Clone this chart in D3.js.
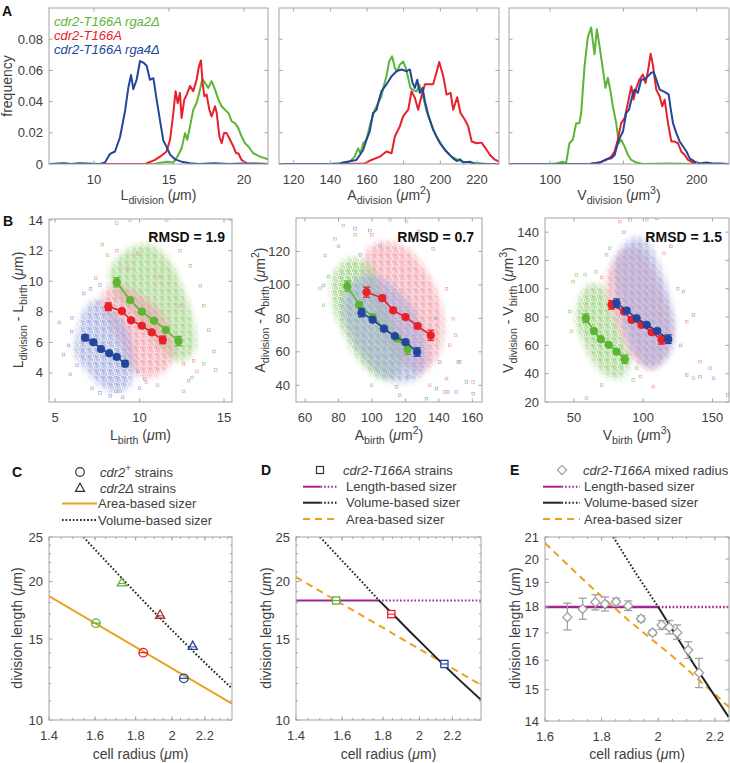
<!DOCTYPE html>
<html><head><meta charset="utf-8">
<script src="https://cdn.jsdelivr.net/npm/d3@7"></script>
<style>
body{margin:0;background:#fff}
svg{font-family:"Liberation Sans",Arial,Helvetica,sans-serif}
</style></head>
<body><svg id="c" width="730" height="763"></svg>
<script>
// ================= DATA =================
// Panel A: histograms (bin centre, frequency)
const lenGreenX=[7,14,14.18,14.84,15.29,15.62,15.84,16.07,16.22,16.4,16.62,16.84,17.07,17.22,17.4,17.62,17.84,18.07,18.29,18.51,18.73,18.96,19.18,19.4,19.62,19.84,20.07,20.29,20.62,21.07,21.6];
const lenGreenY=[0,0,0.0004,0.0015,0.0009,0.0058,0.0101,0.0198,0.0155,0.0241,0.0348,0.0391,0.0477,0.0546,0.052,0.0488,0.0531,0.0477,0.0413,0.037,0.0348,0.0327,0.0273,0.0262,0.023,0.0176,0.0133,0.0112,0.0069,0.0047,0.003];
const lenRedX=[7,13.4,14.07,14.4,14.84,15.07,15.29,15.44,15.58,15.73,15.84,16.02,16.18,16.4,16.62,16.84,17.0,17.13,17.24,17.36,17.51,17.69,17.84,18.07,18.18,18.36,18.51,18.67,18.84,19.07,19.29,19.47,19.62,19.84,20.18,21.6];
const lenRedY=[0,0,0.0026,0.0047,0.008,0.0155,0.0327,0.0467,0.039,0.0456,0.0295,0.0413,0.0445,0.05,0.0467,0.054,0.0628,0.0664,0.052,0.0434,0.0445,0.0348,0.0305,0.037,0.0327,0.0176,0.0133,0.0198,0.0198,0.0155,0.0112,0.0069,0.0069,0.0026,0.0004,0];
const lenBlueX=[7,8,8.5,9,10.4,10.73,11.07,11.4,11.73,12.07,12.29,12.47,12.62,12.84,13.07,13.29,13.51,13.73,13.96,14.18,14.4,14.62,14.84,15.07,15.4,15.84,16.4,17,18,19,20,21.6];
const lenBlueY=[0,0.0005,0,0.0005,0,0.001,0.0065,0.008,0.017,0.034,0.049,0.057,0.048,0.054,0.066,0.065,0.063,0.054,0.055,0.041,0.028,0.015,0.011,0.006,0.003,0.0015,0.0005,0,0.0005,0,0.0004,0];

const areaGreenX=[112,140,145.1,150.6,153.3,155.1,156.4,157.9,159.7,161.9,164.3,166.1,167.9,169.2,170.6,172.1,173.7,175.2,176.5,177.9,179.7,181.2,182.5,183.7,185.2,187,188.5,189.7,191,192.5,195.2,197.9,200.7,203.4,206.1,208,209.8,212.5,216.1,221.6,226,232];
const areaGreenY=[0,0,0.0004,0.0015,0.0047,0.0101,0.0069,0.0133,0.0155,0.0263,0.0348,0.0391,0.0434,0.0503,0.0563,0.0658,0.069,0.0615,0.0594,0.0636,0.0658,0.0615,0.055,0.0486,0.0475,0.0464,0.0508,0.0464,0.0413,0.0337,0.0251,0.0176,0.0123,0.0079,0.0047,0.0036,0.0026,0.0015,0.0009,0.0004,0,0];
const areaRedX=[112,150,158.8,162.4,167,170.6,173.4,175.2,177.9,179.7,182.5,184.3,186.1,187.9,189.7,191.6,194.3,196.1,197.9,199.4,201.6,203.4,205.6,207,209.2,211,213.4,215.2,217.1,219.8,222.5,225.3,227.1,229.5,232];
const areaRedY=[0,0,0.0004,0.0026,0.0047,0.008,0.0069,0.0176,0.0241,0.0305,0.0348,0.0467,0.0424,0.0348,0.0434,0.0511,0.0511,0.0511,0.0587,0.0654,0.0563,0.0445,0.0456,0.0348,0.0428,0.0327,0.0284,0.0241,0.0144,0.0133,0.0137,0.009,0.0058,0.003,0.0015];
const areaBlueX=[112,140,145.1,147,150.6,154.2,156.1,157.9,159.7,161.5,163.3,165.2,166.6,167.9,170.6,173.4,176.1,178.8,181.6,183.4,184.8,186.1,187.4,188.8,190.3,191.6,193.4,196.1,197.9,199.8,202.5,205.2,207,208.9,210.7,212.5,216.1,218,224,232];
const areaBlueY=[0,0,0.0004,0.0009,0.0017,0.0026,0.0058,0.009,0.0155,0.0209,0.0327,0.0348,0.0413,0.0467,0.051,0.0563,0.0595,0.0606,0.0595,0.0606,0.0522,0.0488,0.054,0.0456,0.0488,0.0402,0.0316,0.0219,0.0176,0.0133,0.009,0.0058,0.0036,0.0019,0.003,0.0009,0.0015,0.0004,0,0];

const volGreenX=[72,100,104.1,108.7,110.9,113.2,115.5,117.8,120,121.2,123.5,125.7,128,130.3,131.9,133.7,136,137.8,139.4,141.2,142.8,145.1,146.9,148.5,150.8,153.1,155.4,158.8,163.3,180,200,222];
const volGreenY=[0,0,0.0004,0.0015,0.0004,0.0133,0.0155,0.0262,0.0262,0.0327,0.0626,0.081,0.0875,0.0703,0.0864,0.0757,0.0606,0.0488,0.0553,0.0467,0.037,0.0262,0.0133,0.0155,0.0112,0.0058,0.0026,0.0009,0,0.0004,0,0];
const volRedX=[72,120,126.9,133.7,138.3,141.7,144,146.2,148.5,150.8,153.1,155.4,156.9,158.8,161,163.3,165.1,166.7,168.6,170.2,172.4,174.7,176.5,178.1,180.4,182.7,185,187.2,189.5,191.8,194.1,197.5,202,222];
const volRedY=[0,0,0,0.0009,0.0026,0.0047,0.008,0.0155,0.0262,0.0294,0.0391,0.0499,0.0413,0.0488,0.0542,0.0574,0.052,0.0594,0.0707,0.0628,0.0477,0.0434,0.037,0.0413,0.0262,0.0144,0.0144,0.0133,0.0079,0.0058,0.0026,0.0009,0,0];
const volBlueX=[72,120,126.9,133.7,138.3,141.7,144,146.9,149.7,151.9,153.8,156,157.6,159.9,162.2,164.5,166.7,169,170.6,172.4,174.7,177,179.3,180.9,182,183.8,186.1,188.4,190.7,193,195.2,198.6,202,206.6,211.2,215.7,222];
const volBlueY=[0,0,0,0.0009,0.003,0.0036,0.0058,0.0155,0.0208,0.0327,0.0348,0.0434,0.0477,0.0456,0.0542,0.0542,0.0563,0.0585,0.0589,0.0542,0.0477,0.0467,0.0456,0.0445,0.037,0.0262,0.0198,0.0144,0.0112,0.008,0.0036,0.0015,0.0004,0.0009,0.0004,0.0004,0];

const legendA=["cdr2-T166A rga2\u0394","cdr2-T166A","cdr2-T166A rga4\u0394"];

// Panel B: binned means (x, y, half error)
const b1BlueX=[6.78,7.27,7.72,8.2,8.65,9.14], b1BlueY=[6.31,6.01,5.57,5.29,5.05,4.61], b1BlueE=[0.2,0.12,0.1,0.1,0.12,0.2];
const b1RedX=[8.15,8.95,9.5,10.13,10.72,11.37], b1RedY=[8.33,8.05,7.44,7.09,6.66,6.16], b1RedE=[0.25,0.12,0.1,0.1,0.12,0.25];
const b1GreenX=[8.65,9.44,10.13,10.86,11.55,12.3], b1GreenY=[9.93,8.77,8.01,7.42,6.81,6.09], b1GreenE=[0.3,0.12,0.1,0.1,0.12,0.3];
const b2GreenX=[85.3,92.4,100.4,107.2,115.1,121.3], b2GreenY=[99.3,88.2,80.8,74.2,67.9,61.5], b2GreenE=[3,1.5,1.2,1.2,1.5,3];
const b2BlueX=[93.8,100.4,107.2,113.7,120.1,127], b2BlueY=[83.4,79.2,73.8,69.4,65.8,59.9], b2BlueE=[2.5,1.3,1.2,1.2,1.3,2.5];
const b2RedX=[96.8,106.2,112.7,120.1,127.3,135.2], b2RedY=[95.7,92.1,84.8,80.8,75.4,69.9], b2RedE=[3,1.5,1.2,1.2,1.5,3];
const b3GreenX=[58.5,64.3,69.3,75.1,80.7,86.7], b3GreenY=[79.2,70.2,64.4,60.4,55.6,50.2], b3GreenE=[3,1.5,1.2,1.2,1.5,3];
const b3RedX=[77.1,86.2,91.6,98.8,106.1,113.3], b3RedY=[88.6,83.9,78,74.5,69.3,63.9], b3RedE=[3,1.5,1.2,1.2,1.5,3];
const b3BlueX=[80.7,88,95.2,102.5,110.1,118.1], b3BlueY=[89.8,84.6,79.2,74.5,70.2,64.4], b3BlueE=[3,1.5,1.2,1.2,1.5,3];
const rmsd=["RMSD = 1.9","RMSD = 0.7","RMSD = 1.5"];

// Panel B: single-cell clouds (dense core outline + sparse outer cells)
const b1BlueCore=[[6.38,6.7],[6.68,8.0],[7.47,8.77],[8.26,8.22],[9.05,7.35],[9.54,5.83],[9.64,4.3],[9.34,3.11],[8.45,2.78],[7.66,3.22],[6.78,4.3],[6.18,5.39]];
const b1BlueOut=[[5.25,7.3],[5.98,6.7],[5.8,5.8],[6.3,4.5],[7.1,9.5],[7.66,9.75],[6.7,9.2],[10.0,3.0],[9.9,4.1],[7.66,2.7],[8.26,2.5],[8.6,2.8],[5.9,3.9],[5.5,5.2],[6.0,7.6],[7.2,3.0],[10.3,3.6],[9.0,2.4]];
const b1RedCore=[[7.86,9.24],[8.85,9.68],[10.04,9.03],[11.23,7.94],[11.82,6.63],[12.02,5.32],[11.6,4.24],[10.85,3.8],[10.04,3.8],[9.44,4.46],[8.85,5.99],[8.06,7.73]];
const b1RedOut=[[8.65,12.0],[9.9,11.8],[8.65,13.8],[12.6,4.6],[13.2,4.8],[13.4,4.1],[11.06,3.2],[10.4,3.4],[7.4,10.2],[12.4,8.4],[9.3,10.8],[11.2,10.3],[12.9,3.5],[7.6,8.6]];
const b1GreenCore=[[8.26,10.66],[9.25,11.97],[10.43,12.4],[11.62,11.53],[12.61,9.35],[13.2,7.18],[13.2,5.43],[12.4,4.78],[11.42,5.43],[10.43,6.74],[9.44,8.05],[8.55,9.14]];
const b1GreenOut=[[9.44,14.0],[11.6,14.0],[7.8,12.4],[12.4,12.0],[13.6,9.7],[13.8,8.4],[14.4,5.4],[14.5,4.2],[13.8,4.6],[12.6,2.8],[13.1,3.7],[8.85,2.8],[8.1,11.7],[10.8,13.1],[13.0,11.0],[14.1,6.8]];
const b2GreenCore=[[77.9,107.7],[86.9,115.6],[98.8,111.6],[104.8,95.7],[112.7,77.8],[118.7,59.9],[114.7,45.9],[104.8,44],[94.8,52],[84.9,67.9],[77.9,83.8],[75.9,97.7]];
const b2GreenOut=[[82.9,135.5],[77.9,127.6],[72,117.6],[71,87.8],[99.8,40],[124.7,52],[114.7,39],[74,105],[80,123],[69,98],[90,130],[122,45]];
const b2RedCore=[[96.8,119.6],[106.8,125.6],[120.7,121.6],[132.6,107.7],[140.6,89.8],[142.6,71.8],[138.6,55.9],[128.7,47.96],[118.7,52],[110.8,63.9],[102.8,81.8],[97.8,101.7]];
const b2RedOut=[[110.8,139],[120.7,137.9],[136.6,121.6],[144.6,97.7],[148.6,79.8],[146.6,63.9],[151.5,54],[160.5,42],[144.6,44],[143.6,36],[134.6,40],[128,132],[100,130],[150,70]];
const b2BlueCore=[[86.9,99.7],[96.8,105.7],[108.8,101.7],[122.7,87.8],[130.7,71.8],[132.6,53.9],[126.7,44],[114.7,42],[102.8,48],[92.8,59.9],[84.9,75.8],[82.9,89.8]];
const b2BlueOut=[[89.9,133.5],[98.8,132.5],[104.8,123.6],[71,99.7],[140.6,53.9],[138.6,38],[145.6,36],[150.5,36],[160.5,35],[156.5,42],[152.5,54],[132.6,32],[116.7,34],[93,118],[138,80]];
const b3GreenCore=[[54.2,93.3],[61.4,102.8],[71.1,100.4],[78.3,83.9],[85.5,65.1],[90.4,48.6],[83.1,36.8],[73.5,39.1],[63.8,48.6],[56.6,62.7],[51.7,76.8]];
const b3GreenOut=[[49.3,105.1],[51.7,109.8],[75.9,128.7],[59,22.7],[92.8,35.6],[95.2,43.9],[46.9,83.9],[58,110],[66,112],[95,55],[70,32],[48,70]];
const b3RedCore=[[75.9,114.5],[88,128.7],[97.6,128.7],[107.3,112.2],[116.9,91],[121.8,69.8],[116.9,53.3],[107.3,43.9],[95.2,48.6],[85.5,65.1],[77.1,86.3],[73.5,100.4]];
const b3RedOut=[[83.1,147.5],[102.5,148.7],[131.4,76.8],[141.1,48.6],[136.3,36.8],[107.3,30.9],[73.5,124],[115,125],[125,100],[98,38],[70,108]];
const b3BlueCore=[[80.7,121.6],[92.8,135.7],[102.5,133.4],[112.1,114.5],[119.4,91],[121.8,69.8],[116.9,51],[104.9,43.9],[92.8,55.6],[85.5,74.5],[80.7,95.7]];
const b3BlueOut=[[90.4,148.7],[109.7,149.9],[129,98],[136.3,81.5],[148.3,43.9],[150.8,36.8],[161,25],[131.4,39.1],[141.1,37.9],[120,130],[127,60],[86,140]];

// Panel C
const cCircR=[1.604,1.84,2.07], cCircL=[16.24,14.01,12.32];
const cTriR=[1.729,1.932,2.124], cTriL=[19.9,16.93,14.49];
const cAreaR=[1.4,2.38], cAreaL=[18.6,10.85];
const cVolR=[1.547,1.65,1.75,1.85,1.95,2.05,2.15,2.25,2.38], cVolL=[25,22.17,19.9,17.99,16.38,15.02,13.84,12.83,11.71];
// Panel D
const dSqR=[1.572,1.844,2.15], dSqL=[18.19,16.99,13.24];
const dLenR=[1.4,1.777,2.39], dLenL=[18.19,18.19,18.19];
const dVolR=[1.501,1.6,1.7,1.777,1.85,1.95,2.05,2.15,2.25,2.39], dVolL=[25,22.19,19.84,18.25,17.03,15.52,14.24,13.13,12.18,11.06];
const dAreaR=[1.4,2.39], dAreaL=[20.45,11.92];
// Panel E
const eR=[1.679,1.733,1.778,1.812,1.851,1.894,1.939,1.98,2.012,2.039,2.067,2.106,2.144];
const eL=[17.6,17.92,18.19,18.12,18.21,18.05,17.54,17.01,17.3,17.21,17.01,16.37,15.57];
const eHi=[18.15,18.35,18.49,18.4,18.35,18.24,17.65,17.11,17.47,17.47,17.3,16.67,16.07];
const eLo=[17.11,17.52,17.88,17.84,18.03,17.86,17.43,16.91,17.13,16.96,16.76,16.07,15.07];
const eLenR=[1.6,2.0,2.25], eLenL=[18,18,18];
const eVolR=[1.841,1.918,2.0,2.123,2.249], eVolL=[21,19.44,18,15.91,14.12];
const eAreaR=[1.6,1.75,1.9,2.05,2.25], eAreaL=[20.72,18.95,17.43,16.15,14.44];

// ================= STYLE =================
const GREEN='#5db535', RED='#e8202a', BLUE='#21469b', DRED='#b02a30';
const LGREEN='#9fd283', LRED='#f3a0ac', LBLUE='#a3acdf';
const ORANGE='#eea021', MAG='#a3248f', GREY='#a0a0a0';
const AX='#a3a3a3', TXT='#404040';

const svg=d3.select('#c');
const defs=svg.append('defs');
defs.append('filter').attr('id','blur').attr('x','-50%').attr('y','-50%').attr('width','200%').attr('height','200%')
  .append('feGaussianBlur').attr('stdDeviation',3);

let uid=0;
function clip(x,y){const id='cl'+(uid++);const [x0,x1]=x.range(),[yb,yt]=y.range();
  defs.append('clipPath').attr('id',id).append('rect').attr('x',x0).attr('y',yt).attr('width',x1-x0).attr('height',yb-yt);
  return `url(#${id})`;}

function txt(g,x,y,parts,o={}){
  const size=o.size||14;
  const t=g.append('text').attr('x',x).attr('y',y).attr('text-anchor',o.anchor||'start')
    .attr('font-size',size).attr('fill',o.fill||TXT);
  if(o.bold) t.attr('font-weight','bold');
  if(o.italic) t.attr('font-style','italic');
  if(o.rotate) t.attr('transform',`rotate(-90,${x},${y})`);
  let shift=0;
  parts.forEach(p=>{
    if(typeof p==='string') p={t:p};
    const target=p.sub?4:(p.sup?-6:0);
    const ts=t.append('tspan').attr('dy',target-shift).text(p.t);
    shift=target;
    if(p.sub||p.sup) ts.attr('font-size',size*0.76);
    if(p.it) ts.attr('font-style','italic');
  });
  return t;
}

function axes(x,y,o){
  const [x0,x1]=x.range(),[yb,yt]=y.range();
  const g=svg.append('g');
  const L=o.tl||3.5;
  const ln=(a,b,c,d)=>g.append('line').attr('x1',a).attr('y1',b).attr('x2',c).attr('y2',d).attr('stroke',AX).attr('stroke-width',1);
  (o.xminor||[]).forEach(v=>{const p=x(v);ln(p,yb,p,yb-L*0.6);ln(p,yt,p,yt+L*0.6);});
  (o.yminor||[]).forEach(v=>{const p=y(v);ln(x0,p,x0+L*0.6,p);ln(x1,p,x1-L*0.6,p);});
  o.xt.forEach(v=>{const p=x(v);ln(p,yb,p,yb-L);ln(p,yt,p,yt+L);
    g.append('text').attr('x',p).attr('y',yb+20).attr('text-anchor','middle').attr('font-size',13).attr('fill',TXT).text(o.xf?o.xf(v):v);});
  o.yt.forEach(v=>{const p=y(v);ln(x0,p,x0+L,p);ln(x1,p,x1-L,p);
    if(o.yl!==false) g.append('text').attr('x',x0-6).attr('y',p+4.5).attr('text-anchor','end').attr('font-size',13).attr('fill',TXT).text(o.yf?o.yf(v):v);});
  g.append('rect').attr('x',x0).attr('y',yt).attr('width',x1-x0).attr('height',yb-yt).attr('fill','none').attr('stroke',AX).attr('stroke-width',1);
}

function curve(g,x,y,xs,ys,color,o={}){
  g.append('path').attr('d',d3.line()(xs.map((v,i)=>[x(v),y(ys[i])])))
    .attr('fill','none').attr('stroke',color).attr('stroke-width',o.w||2)
    .attr('stroke-dasharray',o.dash||null).attr('stroke-linejoin','round');
}

function pattern(id,color,dx,dy){
  const p=defs.append('pattern').attr('id',id).attr('patternUnits','userSpaceOnUse').attr('width',7).attr('height',7)
    .attr('patternTransform',`translate(${dx},${dy})`);
  [[0.4,0.6],[3.6,1.4],[1.7,3.9],[4.9,4.6],[2.6,0.1]].forEach(([a,b])=>p.append('rect').attr('x',a).attr('y',b).attr('width',2).attr('height',2)
    .attr('fill','none').attr('stroke',color).attr('stroke-width',0.7));
}
function cloud(g,x,y,core,out,color){
  const id='m'+(uid++);
  const m=defs.append('mask').attr('id',id).attr('maskUnits','userSpaceOnUse').attr('x',0).attr('y',0).attr('width',730).attr('height',763);
  m.append('path').attr('d',d3.line().curve(d3.curveCatmullRomClosed)(core.map(p=>[x(p[0]),y(p[1])]))).attr('fill','#fff').attr('filter','url(#blur)');
  const pid='p'+id; pattern(pid,color,(uid*2.3)%7,(uid*1.7)%7);
  const [x0,x1]=x.range(),[yb,yt]=y.range();
  g.append('rect').attr('x',x0).attr('y',yt).attr('width',x1-x0).attr('height',yb-yt).attr('fill',color).attr('fill-opacity',0.16).attr('mask',`url(#${id})`);
  g.append('rect').attr('x',x0).attr('y',yt).attr('width',x1-x0).attr('height',yb-yt).attr('fill',`url(#${pid})`).attr('mask',`url(#${id})`);
  g.selectAll(null).data(out).join('rect').attr('x',d=>x(d[0])-1.3).attr('y',d=>y(d[1])-1.3).attr('width',2.6).attr('height',2.6)
    .attr('fill','none').attr('stroke',color).attr('stroke-width',0.7);
}
function binned(g,x,y,bx,by,be,color){
  curve(g,x,y,bx,by,color,{w:1.6});
  bx.forEach((v,i)=>{
    const px=x(v),y1=y(by[i]+be[i]),y2=y(by[i]-be[i]);
    [[px,y1,px,y2],[px-3.5,y1,px+3.5,y1],[px-3.5,y2,px+3.5,y2]].forEach(a=>g.append('line').attr('x1',a[0]).attr('y1',a[1]).attr('x2',a[2]).attr('y2',a[3]).attr('stroke',color).attr('stroke-width',1.3));
    g.append('circle').attr('cx',px).attr('cy',y(by[i])).attr('r',3.8).attr('fill',color).attr('stroke',color).attr('stroke-width',0.8);
  });
}

// ================= PANEL A =================
const yA=d3.scaleLinear().domain([0,0.1]).range([164,8]);
const xA1=d3.scaleLinear().domain([7,21.6]).range([49,268]);
const xA2=d3.scaleLinear().domain([112,232]).range([279,499]);
const xA3=d3.scaleLinear().domain([72,222]).range([509,729]);
[[xA1,[lenGreenX,lenGreenY],[lenRedX,lenRedY],[lenBlueX,lenBlueY]],
 [xA2,[areaGreenX,areaGreenY],[areaRedX,areaRedY],[areaBlueX,areaBlueY]],
 [xA3,[volGreenX,volGreenY],[volRedX,volRedY],[volBlueX,volBlueY]]].forEach(([x,gs,rs,bs])=>{
  const g=svg.append('g').attr('clip-path',clip(x,yA));
  curve(g,x,yA,gs[0],gs[1],GREEN);curve(g,x,yA,rs[0],rs[1],RED);curve(g,x,yA,bs[0],bs[1],BLUE);
});
const fmtA=v=>v===0?'0':v.toFixed(2);
axes(xA1,yA,{xt:[10,15,20],yt:[0,0.02,0.04,0.06,0.08],yf:fmtA});
axes(xA2,yA,{xt:[120,140,160,180,200,220],yt:[0,0.02,0.04,0.06,0.08],yl:false});
axes(xA3,yA,{xt:[100,150,200],yt:[0,0.02,0.04,0.06,0.08],yl:false});
const gA=svg.append('g');
[GREEN,RED,BLUE].forEach((c,i)=>txt(gA,54,[25.5,39.5,53.5][i],[legendA[i]],{size:13,italic:true,fill:c}));
txt(gA,12,86,['frequency'],{rotate:true,anchor:'middle'});
txt(gA,158.5,200,['L',{t:'division',sub:true},'  (',{t:'\u03bc',it:true},'m)'],{anchor:'middle'});
txt(gA,389,200,['A',{t:'division',sub:true},'  (',{t:'\u03bc',it:true},'m',{t:'2',sup:true},')'],{anchor:'middle'});
txt(gA,619,200,['V',{t:'division',sub:true},'  (',{t:'\u03bc',it:true},'m',{t:'3',sup:true},')'],{anchor:'middle'});
txt(gA,2,16,['A'],{bold:true,size:14,fill:'#111'});

// ================= PANEL B =================
const xB1=d3.scaleLinear().domain([4.64,15.47]).range([49,232]);
const yB1=d3.scaleLinear().domain([2.1,14.07]).range([402,219]);
const xB2=d3.scaleLinear().domain([54.6,165.8]).range([296,482]);
const yB2=d3.scaleLinear().domain([30,140]).range([402,218]);
const xB3=d3.scaleLinear().domain([29,162]).range([545,729]);
const yB3=d3.scaleLinear().domain([20,150]).range([402,218]);
{
  const g=svg.append('g').attr('clip-path',clip(xB1,yB1));
  cloud(g,xB1,yB1,b1GreenCore,b1GreenOut,LGREEN);
  cloud(g,xB1,yB1,b1RedCore,b1RedOut,LRED);
  cloud(g,xB1,yB1,b1BlueCore,b1BlueOut,LBLUE);
  binned(g,xB1,yB1,b1BlueX,b1BlueY,b1BlueE,BLUE);
  binned(g,xB1,yB1,b1RedX,b1RedY,b1RedE,RED);
  binned(g,xB1,yB1,b1GreenX,b1GreenY,b1GreenE,GREEN);
}
{
  const g=svg.append('g').attr('clip-path',clip(xB2,yB2));
  cloud(g,xB2,yB2,b2RedCore,b2RedOut,LRED);
  cloud(g,xB2,yB2,b2GreenCore,b2GreenOut,LGREEN);
  cloud(g,xB2,yB2,b2BlueCore,b2BlueOut,LBLUE);
  binned(g,xB2,yB2,b2GreenX,b2GreenY,b2GreenE,GREEN);
  binned(g,xB2,yB2,b2BlueX,b2BlueY,b2BlueE,BLUE);
  binned(g,xB2,yB2,b2RedX,b2RedY,b2RedE,RED);
}
{
  const g=svg.append('g').attr('clip-path',clip(xB3,yB3));
  cloud(g,xB3,yB3,b3GreenCore,b3GreenOut,LGREEN);
  cloud(g,xB3,yB3,b3RedCore,b3RedOut,LRED);
  cloud(g,xB3,yB3,b3BlueCore,b3BlueOut,LBLUE);
  binned(g,xB3,yB3,b3GreenX,b3GreenY,b3GreenE,GREEN);
  binned(g,xB3,yB3,b3RedX,b3RedY,b3RedE,RED);
  binned(g,xB3,yB3,b3BlueX,b3BlueY,b3BlueE,BLUE);
}
axes(xB1,yB1,{xt:[5,10,15],yt:[4,6,8,10,12,14]});
axes(xB2,yB2,{xt:[60,80,100,120,140,160],yt:[40,60,80,100,120]});
axes(xB3,yB3,{xt:[50,100,150],yt:[20,40,60,80,100,120,140]});
const gB=svg.append('g');
txt(gB,225,242,[rmsd[0]],{anchor:'end',bold:true,fill:'#111'});
txt(gB,474,242,[rmsd[1]],{anchor:'end',bold:true,fill:'#111'});
txt(gB,722,242,[rmsd[2]],{anchor:'end',bold:true,fill:'#111'});
txt(gB,140.5,440,['L',{t:'birth',sub:true},' (',{t:'\u03bc',it:true},'m)'],{anchor:'middle'});
txt(gB,389,440,['A',{t:'birth',sub:true},' (',{t:'\u03bc',it:true},'m',{t:'2',sup:true},')'],{anchor:'middle'});
txt(gB,637,440,['V',{t:'birth',sub:true},' (',{t:'\u03bc',it:true},'m',{t:'3',sup:true},')'],{anchor:'middle'});
txt(gB,23,310,['L',{t:'division',sub:true},' - L',{t:'birth',sub:true},' (',{t:'\u03bc',it:true},'m)'],{anchor:'middle',rotate:true});
txt(gB,265,310,['A',{t:'division',sub:true},' - A',{t:'birth',sub:true},' (',{t:'\u03bc',it:true},'m',{t:'2',sup:true},')'],{anchor:'middle',rotate:true});
txt(gB,513,310,['V',{t:'division',sub:true},' - V',{t:'birth',sub:true},' (',{t:'\u03bc',it:true},'m',{t:'3',sup:true},')'],{anchor:'middle',rotate:true});
txt(gB,3,226,['B'],{bold:true,fill:'#111'});

// ================= PANELS C, D, E =================
const xC=d3.scaleLog().domain([1.4,2.38]).range([49,232]);
const yC=d3.scaleLog().domain([10,25]).range([720,537]);
const xD=d3.scaleLog().domain([1.4,2.39]).range([296,481]);
const yD=d3.scaleLog().domain([10,25]).range([720,537]);
const xE=d3.scaleLinear().domain([1.6,2.25]).range([545,729]);
const yE=d3.scaleLog().domain([14,21]).range([721,537]);
const fmtR=v=>v===2?'2':v.toFixed(1);
const rMinor=d3.range(1.45,2.4,0.05);
const lMinor=[11,12,13,14,16,17,18,19,21,22,23,24];

// C
{
  const g=svg.append('g').attr('clip-path',clip(xC,yC));
  curve(g,xC,yC,cAreaR,cAreaL,ORANGE,{w:2});
  curve(g,xC,yC,cVolR,cVolL,'#222',{w:2,dash:'1.6,2'});
  const cc=[GREEN,RED,BLUE], tc=[GREEN,DRED,BLUE];
  cCircR.forEach((r,i)=>{const px=xC(r),py=yC(cCircL[i]);
    g.append('circle').attr('cx',px).attr('cy',py).attr('r',4.3).attr('fill','none').attr('stroke',cc[i]).attr('stroke-width',1.3);
    g.append('line').attr('x1',px-4.3).attr('x2',px+4.3).attr('y1',py).attr('y2',py).attr('stroke',cc[i]).attr('stroke-width',1.2);});
  cTriR.forEach((r,i)=>{const px=xC(r),py=yC(cTriL[i]);
    g.append('path').attr('d',`M${px},${py-4.8}L${px+4.6},${py+3.4}L${px-4.6},${py+3.4}Z`).attr('fill','none').attr('stroke',tc[i]).attr('stroke-width',1.3);
    g.append('line').attr('x1',px-3.5).attr('x2',px+3.5).attr('y1',py+1).attr('y2',py+1).attr('stroke',tc[i]).attr('stroke-width',1);});
}
axes(xC,yC,{xt:[1.4,1.6,1.8,2,2.2],xf:fmtR,yt:[10,15,20,25],xminor:rMinor,yminor:lMinor});
// D
{
  const g=svg.append('g').attr('clip-path',clip(xD,yD));
  curve(g,xD,yD,dAreaR,dAreaL,ORANGE,{w:2,dash:'7,5'});
  curve(g,xD,yD,dLenR.slice(0,2),dLenL.slice(0,2),MAG,{w:2.2});
  curve(g,xD,yD,dLenR.slice(1),dLenL.slice(1),MAG,{w:2.2,dash:'1.6,2'});
  curve(g,xD,yD,dVolR.slice(0,4),dVolL.slice(0,4),'#222',{w:2,dash:'1.6,2'});
  curve(g,xD,yD,dVolR.slice(3),dVolL.slice(3),'#222',{w:2});
  const sc=[GREEN,RED,BLUE];
  dSqR.forEach((r,i)=>{const px=xD(r),py=yD(dSqL[i]);
    g.append('rect').attr('x',px-3.6).attr('y',py-3.6).attr('width',7.2).attr('height',7.2).attr('fill','#fff').attr('stroke',sc[i]).attr('stroke-width',1.3);
    g.append('line').attr('x1',px-3.6).attr('x2',px+3.6).attr('y1',py).attr('y2',py).attr('stroke',sc[i]).attr('stroke-width',1.1);});
}
axes(xD,yD,{xt:[1.4,1.6,1.8,2,2.2],xf:fmtR,yt:[10,15,20,25],xminor:rMinor,yminor:lMinor});
// E
{
  const g=svg.append('g').attr('clip-path',clip(xE,yE));
  curve(g,xE,yE,eAreaR,eAreaL,ORANGE,{w:2,dash:'7,5'});
  curve(g,xE,yE,eLenR.slice(0,2),eLenL.slice(0,2),MAG,{w:2.4});
  curve(g,xE,yE,eLenR.slice(1),eLenL.slice(1),MAG,{w:2.4,dash:'1.6,2'});
  curve(g,xE,yE,eVolR.slice(0,3),eVolL.slice(0,3),'#222',{w:2,dash:'1.6,2'});
  curve(g,xE,yE,eVolR.slice(2),eVolL.slice(2),'#222',{w:2});
  eR.forEach((r,i)=>{const px=xE(r),y1=yE(eHi[i]),y2=yE(eLo[i]);
    [[px,y1,px,y2],[px-4,y1,px+4,y1],[px-4,y2,px+4,y2]].forEach(a=>g.append('line').attr('x1',a[0]).attr('y1',a[1]).attr('x2',a[2]).attr('y2',a[3]).attr('stroke',GREY).attr('stroke-width',1.3));});
  eR.forEach((r,i)=>{const px=xE(r),py=yE(eL[i]);
    g.append('path').attr('d',`M${px},${py-4.6}L${px+4.6},${py}L${px},${py+4.6}L${px-4.6},${py}Z`).attr('fill','#fff').attr('stroke',GREY).attr('stroke-width',1.3);});
}
axes(xE,yE,{xt:[1.6,1.8,2,2.2],xf:fmtR,yt:[14,15,16,17,18,19,20,21],xminor:d3.range(1.65,2.25,0.05)});

// titles C-E
const gC=svg.append('g');
[[140.5,22],[388.5,271],[637,520]].forEach(([cx,yx])=>{
  txt(gC,cx,759,['cell radius (',{t:'\u03bc',it:true},'m)'],{anchor:'middle'});
  txt(gC,yx,628,['division length (',{t:'\u03bc',it:true},'m)'],{anchor:'middle',rotate:true});
});
txt(gC,12,477,['C'],{bold:true,fill:'#111'});
txt(gC,261,475,['D'],{bold:true,fill:'#111'});
txt(gC,510,475,['E'],{bold:true,fill:'#111'});
// legend C
gC.append('circle').attr('cx',80).attr('cy',472).attr('r',4.3).attr('fill','none').attr('stroke','#333').attr('stroke-width',1.2);
txt(gC,100,476.5,[{t:'cdr2',it:true},{t:'+',sup:true},' strains'],{size:13});
gC.append('path').attr('d','M80,483.2L84.6,491.4L75.4,491.4Z').attr('fill','none').attr('stroke','#333').attr('stroke-width',1.2);
txt(gC,100,493,[{t:'cdr2\u0394',it:true},' strains'],{size:13});
gC.append('line').attr('x1',62).attr('x2',97).attr('y1',503.5).attr('y2',503.5).attr('stroke',ORANGE).attr('stroke-width',2);
txt(gC,98,508,['Area-based sizer'],{size:13});
gC.append('line').attr('x1',62).attr('x2',97).attr('y1',520).attr('y2',520).attr('stroke','#222').attr('stroke-width',2).attr('stroke-dasharray','1.6,2');
txt(gC,98,524.5,['Volume-based sizer'],{size:13});
// legend D & E
function sizerLegend(lx0,lx1,tx,ys){
  const mid=(lx0+lx1)/2;
  const ln=(a,b,y,c,w,d)=>gC.append('line').attr('x1',a).attr('x2',b).attr('y1',y).attr('y2',y).attr('stroke',c).attr('stroke-width',w).attr('stroke-dasharray',d||null);
  ln(lx0,mid,ys[0],MAG,2);ln(mid,lx1,ys[0],MAG,2,'1.6,2');
  ln(lx0,mid,ys[1],'#222',2);ln(mid,lx1,ys[1],'#222',2,'1.6,2');
  ln(lx0,lx1,ys[2],ORANGE,2,'7,5');
  txt(gC,tx,ys[0]+4.5,['Length-based sizer'],{size:13});
  txt(gC,tx,ys[1]+4.5,['Volume-based sizer'],{size:13});
  txt(gC,tx,ys[2]+4.5,['Area-based sizer'],{size:13});
}
gC.append('rect').attr('x',316.5).attr('y',466.5).attr('width',7).attr('height',7).attr('fill','none').attr('stroke','#333').attr('stroke-width',1.2);
txt(gC,343,474.5,[{t:'cdr2-T166A',it:true},' strains'],{size:13});
sizerLegend(303,338,346,[486.7,502.7,519]);
gC.append('path').attr('d','M562,465.4L566.6,470L562,474.6L557.4,470Z').attr('fill','none').attr('stroke',GREY).attr('stroke-width',1.2);
txt(gC,583,474.5,[{t:'cdr2-T166A',it:true},' mixed radius'],{size:13});
sizerLegend(543,580,584,[486.7,502.7,519]);
</script></body></html>
